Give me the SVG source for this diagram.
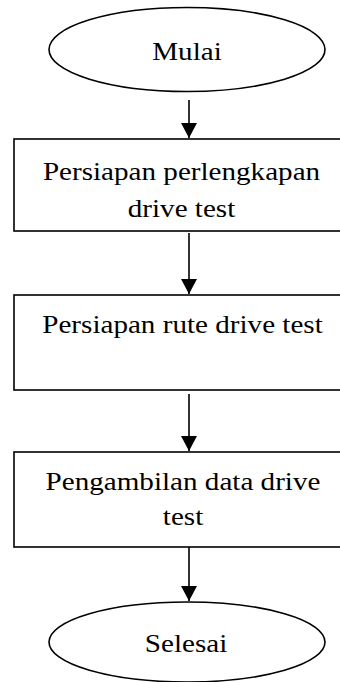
<svg xmlns="http://www.w3.org/2000/svg" width="340" height="682" viewBox="0 0 340 682">
<defs>
<marker id="ah" markerWidth="16" markerHeight="16" viewBox="0 0 16 16" refX="15" refY="8" orient="auto" markerUnits="userSpaceOnUse">
<path d="M0,0 L15,8 L0,16 Z" fill="#000"/>
</marker>
<style>
.shape{fill:#fff;stroke:#000;stroke-width:1.6}
.conn{stroke:#000;stroke-width:1.6;fill:none;marker-end:url(#ah)}
.lbl{font-family:"Liberation Serif","Times New Roman",serif;font-size:26px;fill:#000;text-anchor:middle}
</style>
</defs>
<rect width="340" height="682" fill="#fff"/>
<g id="connectors">
<line class="conn" x1="189" y1="100" x2="189" y2="138"/>
<line class="conn" x1="189" y1="233" x2="189" y2="294"/>
<line class="conn" x1="189" y1="394" x2="189" y2="451"/>
<line class="conn" x1="189" y1="547" x2="189" y2="601"/>
</g>
<g id="start">
<ellipse class="shape" cx="187" cy="49.5" rx="138" ry="42"/>
<g transform="translate(187,0) scale(1.12,1)"><text class="lbl" x="0" y="60">Mulai</text></g>
</g>
<g id="step1">
<rect class="shape" x="14" y="139" width="330" height="92"/>
<g transform="translate(181.5,0) scale(1.12,1)"><text class="lbl" x="0" y="180">Persiapan perlengkapan</text><text class="lbl" x="0" y="217">drive test</text></g>
</g>
<g id="step2">
<rect class="shape" x="14" y="295" width="330" height="95"/>
<g transform="translate(182.5,0) scale(1.12,1)"><text class="lbl" x="0" y="333">Persiapan rute drive test</text></g>
</g>
<g id="step3">
<rect class="shape" x="14" y="452" width="330" height="95"/>
<g transform="translate(183,0) scale(1.12,1)"><text class="lbl" x="0" y="490">Pengambilan data drive</text><text class="lbl" x="0" y="525">test</text></g>
</g>
<g id="end">
<ellipse class="shape" cx="187" cy="642" rx="138" ry="40"/>
<g transform="translate(186,0) scale(1.12,1)"><text class="lbl" x="0" y="652">Selesai</text></g>
</g>
</svg>
